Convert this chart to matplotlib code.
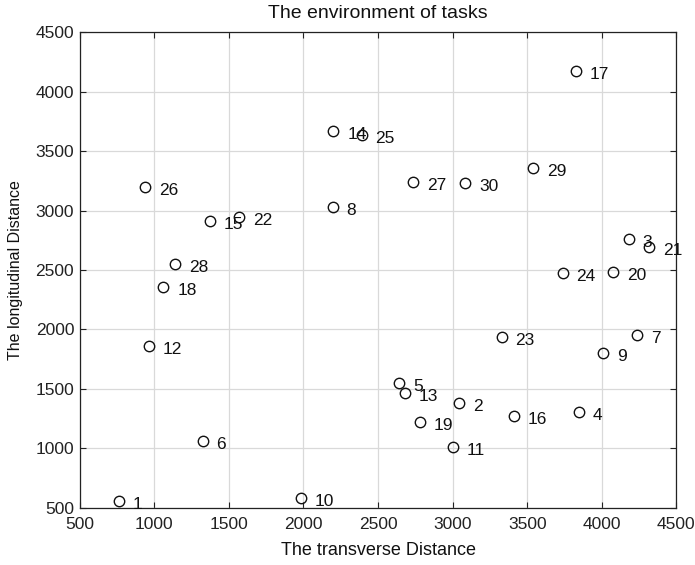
import matplotlib
matplotlib.use("Agg")
import matplotlib.pyplot as plt

plt.rcParams['font.family'] = ['Liberation Sans', 'DejaVu Sans']

task_ids = list(range(1, 31))
x_vals = [763, 3043, 4182, 3849, 2643, 1324, 4238, 2196, 4010, 1981,
          3004, 964, 2681, 2200, 1373, 3413, 3825, 1060, 2781, 4077,
          4316, 1566, 3329, 3738, 2390, 937, 2736, 1138, 3541, 3083]
y_vals = [559, 1383, 2760, 1303, 1546, 1064, 1953, 3027, 1799, 584,
          1008, 1860, 1462, 3672, 2912, 1271, 4176, 2359, 1221, 2480,
          2693, 2950, 1933, 2477, 3635, 3200, 3242, 2548, 3355, 3229]
x_ticks = [500, 1000, 1500, 2000, 2500, 3000, 3500, 4000, 4500]
y_ticks = [500, 1000, 1500, 2000, 2500, 3000, 3500, 4000, 4500]

fig = plt.figure(figsize=(6.95, 5.65), dpi=100)
ax = fig.add_axes([0.1148, 0.1014, 0.8583, 0.8414])

ax.plot(x_vals, y_vals, linestyle='none', marker='o', markersize=7.5,
        markerfacecolor='none', markeredgecolor='#111111', markeredgewidth=1.0,
        zorder=3)
for i, xv, yv in zip(task_ids, x_vals, y_vals):
    ax.annotate(str(i), (xv, yv), xytext=(10, -2.5), textcoords='offset points',
                ha='left', va='center', fontsize=12.5, color='#111111', zorder=4)

ax.set_xlim(500, 4500)
ax.set_ylim(500, 4500)
ax.set_xticks(x_ticks)
ax.set_yticks(y_ticks)
ax.tick_params(direction='in', top=True, right=True, labelsize=12.5,
               length=4, width=0.8, colors='#222222')
ax.tick_params(axis='x', pad=7)
ax.tick_params(axis='y', pad=4)
ax.grid(True, color='#d9d9d9', linewidth=0.9)
ax.set_axisbelow(True)
for sp in ax.spines.values():
    sp.set_color('#222222')
    sp.set_linewidth(0.9)

ax.set_title('The environment of tasks', fontsize=14, color='#111111', pad=10)
ax.set_xlabel('The transverse Distance', fontsize=13, color='#111111', labelpad=7)
ax.set_ylabel('The longitudinal Distance', fontsize=11.5, color='#111111', labelpad=9)

fig.savefig('out.png', dpi=100)
